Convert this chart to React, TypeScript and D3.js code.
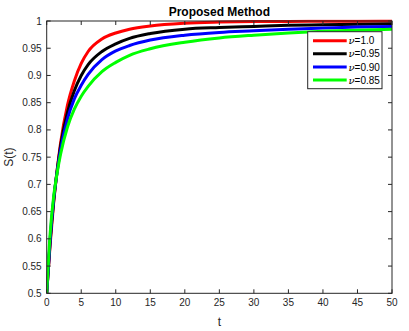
import React from "react";
import * as d3 from "d3";

const tValues = [0, 0.5, 1, 1.5, 2, 3, 4, 5, 6, 8, 10, 12, 15, 20, 25, 30, 35, 40, 45, 50];
const sNu100 = [0.5, 0.59, 0.665, 0.725, 0.775, 0.845, 0.89, 0.922, 0.944, 0.967, 0.978, 0.985, 0.991, 0.996, 0.998, 0.999, 0.9993, 0.9995, 0.9997, 0.9998];
const sNu095 = [0.5, 0.595, 0.668, 0.724, 0.77, 0.832, 0.872, 0.9, 0.92, 0.944, 0.958, 0.968, 0.977, 0.985, 0.988, 0.99, 0.992, 0.993, 0.994, 0.995];
const sNu090 = [0.5, 0.6, 0.672, 0.722, 0.763, 0.82, 0.857, 0.882, 0.902, 0.929, 0.945, 0.955, 0.965, 0.974, 0.979, 0.982, 0.985, 0.987, 0.989, 0.99];
const sNu085 = [0.5, 0.61, 0.677, 0.72, 0.755, 0.805, 0.838, 0.862, 0.88, 0.907, 0.924, 0.937, 0.949, 0.961, 0.969, 0.974, 0.978, 0.981, 0.983, 0.985];

const seriesLabels = ["=1.0", "=0.95", "=0.90", "=0.85"];
const seriesColors = ["#ff0000", "#000000", "#0000ff", "#00ff00"];
const seriesValues = [sNu100, sNu095, sNu090, sNu085];

const xTicks = [0, 5, 10, 15, 20, 25, 30, 35, 40, 45, 50];
const yTicks = [0.5, 0.55, 0.6, 0.65, 0.7, 0.75, 0.8, 0.85, 0.9, 0.95, 1];

const W = 409, H = 331;
const M = { left: 46.7, right: 392, top: 21, bottom: 293.3 };
const axisColor = "#262626";
const font = "'Liberation Sans', Arial, Helvetica, sans-serif";

export default function App() {
  const x = d3.scaleLinear().domain([0, 50]).range([M.left, M.right]);
  const y = d3.scaleLinear().domain([0.5, 1]).range([M.bottom, M.top]);
  const line = d3.line<[number, number]>().x(d => x(d[0])).y(d => y(d[1])).curve(d3.curveMonotoneX);
  const tickLen = 4;
  const yFmt = (v: number) => (v === 1 ? "1" : String(+v.toFixed(2)));
  const legend = { x: 307.7, y: 31.7, w: 74.3, h: 57, rowY: [40.7, 53.8, 67, 80] };

  return (
    <svg width={W} height={H} style={{ position: "absolute", left: 0, top: 0, background: "#fff" }}>
      <defs>
        <clipPath id="plotClip">
          <rect x={M.left} y={M.top - 1.5} width={M.right - M.left} height={M.bottom - M.top + 1.5} />
        </clipPath>
      </defs>
      <rect x={0} y={0} width={W} height={H} fill="#fff" />
      <g clipPath="url(#plotClip)">
        {seriesValues.map((vals, i) => (
          <path
            key={i}
            d={line(tValues.map((t, j) => [t, vals[j]] as [number, number])) || ""}
            fill="none"
            stroke={seriesColors[i]}
            strokeWidth={3}
          />
        ))}
      </g>
      <rect x={M.left} y={M.top} width={M.right - M.left} height={M.bottom - M.top} fill="none" stroke={axisColor} strokeWidth={1} />
      {xTicks.map(t => (
        <g key={"x" + t}>
          <line x1={x(t)} x2={x(t)} y1={M.bottom} y2={M.bottom - tickLen} stroke={axisColor} />
          <line x1={x(t)} x2={x(t)} y1={M.top} y2={M.top + tickLen} stroke={axisColor} />
          <text x={x(t)} y={M.bottom + 13} textAnchor="middle" fontSize={10} fontFamily={font} fill={axisColor}>{t}</text>
        </g>
      ))}
      {yTicks.map(v => (
        <g key={"y" + v}>
          <line x1={M.left} x2={M.left + tickLen} y1={y(v)} y2={y(v)} stroke={axisColor} />
          <line x1={M.right} x2={M.right - tickLen} y1={y(v)} y2={y(v)} stroke={axisColor} />
          <text x={M.left - 5} y={y(v) + 3.5} textAnchor="end" fontSize={10} fontFamily={font} fill={axisColor}>{yFmt(v)}</text>
        </g>
      ))}
      <text x={(M.left + M.right) / 2} y={16} textAnchor="middle" fontSize={12} fontWeight="bold" fontFamily={font} fill="#000">Proposed Method</text>
      <text x={(M.left + M.right) / 2} y={326} textAnchor="middle" fontSize={12} fontFamily={font} fill={axisColor}>t</text>
      <text transform={`translate(13,${(M.top + M.bottom) / 2}) rotate(-90)`} textAnchor="middle" fontSize={12} fontFamily={font} fill={axisColor}>S(t)</text>
      <g>
        <rect x={legend.x} y={legend.y} width={legend.w} height={legend.h} fill="#fff" stroke={axisColor} strokeWidth={1} />
        {seriesLabels.map((lab, i) => (
          <g key={lab}>
            <line x1={313} x2={346.7} y1={legend.rowY[i]} y2={legend.rowY[i]} stroke={seriesColors[i]} strokeWidth={3} />
            <text x={348.5} y={legend.rowY[i] + 3.5} fontSize={10} fontFamily={font} fill="#000">
              <tspan fontStyle="italic" fontFamily="'DejaVu Serif', serif">ν</tspan>
              <tspan>{lab}</tspan>
            </text>
          </g>
        ))}
      </g>
    </svg>
  );
}
